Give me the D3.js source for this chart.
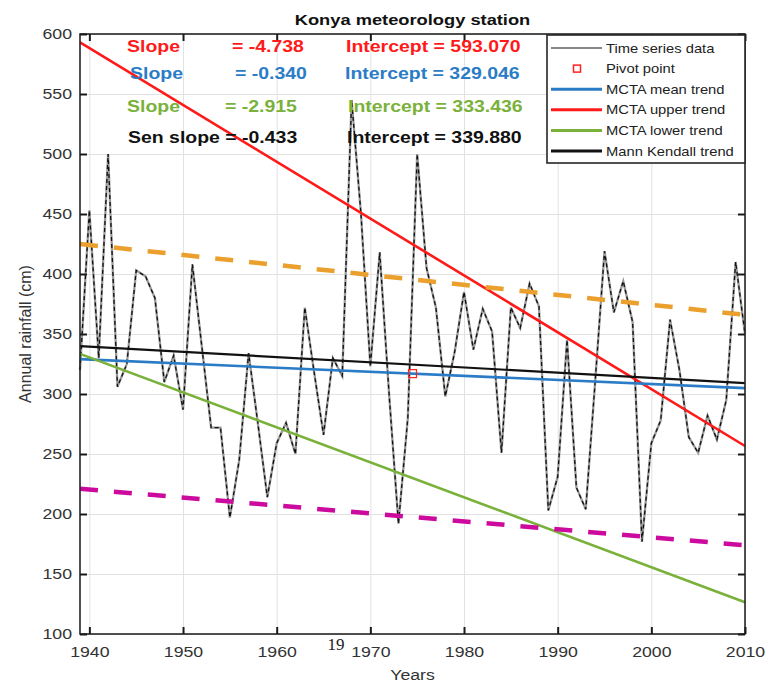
<!DOCTYPE html>
<html>
<head>
<meta charset="utf-8">
<script src="https://cdn.jsdelivr.net/npm/d3@7"></script>
<style>
    body { margin: 0; background: #fff; }
    svg { font-family: 'Liberation Sans', Arial, Helvetica, sans-serif; }
    .grid line { stroke: #e2e2e2; stroke-width: 1; }
    .grid path { display: none; }
    .tk path { display: none; }
    .tk line { stroke: #1a1a1a; stroke-width: 2; }
    .tk text { font-size: 15px; fill: #333; }
</style>
</head>
<body>
<svg id="chart" width="769" height="687"></svg>
<script>
// Jahresniederschlag Konya 1939 - 2010
var years = d3.range(1939, 2011);
var rainfall = [
    320,                                              // 1939
    453, 330, 500, 306, 325, 403, 398, 380, 310, 332, // 1940-49
    287, 408, 340, 272, 272, 197, 245, 334, 275, 214, // 1950-59
    259, 276, 250, 372, 318, 266, 330, 315, 545, 450, // 1960-69
    323, 418, 300, 192, 280, 500, 405, 372, 298, 335, // 1970-79
    385, 337, 371, 352, 251, 372, 355, 392, 373, 203, // 1980-89
    231, 345, 222, 204, 310, 419, 368, 394, 360, 177, // 1990-99
    259, 278, 362, 320, 264, 251, 282, 262, 295, 410, // 2000-09
    350                                               // 2010
];

// Trends (Reihenfolge: upper, mean, lower, Mann Kendall)
var trendKeys = ["upper", "mean", "lower", "mk"];
var trendSlope = [-4.738, -0.340, -2.915, -0.433];
var trendIntercept = [593.070, 329.046, 333.436, 339.880];

// gestrichelte Grenzen
var boundYears = [1939, 2010];
var upperBound = [425, 366];
var lowerBound = [221, 174];

var pivotYear = 1974.5;

var xTicks = [1940, 1950, 1960, 1970, 1980, 1990, 2000, 2010];
var yTicks = [100, 150, 200, 250, 300, 350, 400, 450, 500, 550, 600];

var legendLabels = ["Time series data", "Pivot point", "MCTA mean trend",
    "MCTA upper trend", "MCTA lower trend", "Mann Kendall trend"];

var colors = { upper: "#ff1a1a", mean: "#2a7cc6", lower: "#79b13a", mk: "#111111" };
var SX = 1.18; // Bild ist horizontal gestreckt

var margin = { top: 34, right: 24, bottom: 53, left: 80 },
    width = 769 - margin.left - margin.right,
    height = 687 - margin.top - margin.bottom;

var svg = d3.select("#chart");
var g = svg.append("g")
    .attr("transform", "translate(" + margin.left + "," + margin.top + ")");

var x = d3.scaleLinear().domain([1939, 2010]).range([0, width]);
var y = d3.scaleLinear().domain([100, 600]).range([height, 0]);

function stretch(sel) {
    sel.each(function () {
        var t = d3.select(this);
        var ox = +t.attr("x") || 0;
        t.attr("x", ox / SX).attr("transform", "scale(" + SX + ",1)");
    });
}

function label(parent, px, py, str) {
    return parent.append("text")
        .attr("transform", "translate(" + px + "," + py + ") scale(" + SX + ",1)")
        .text(str);
}

// Gitter
g.append("g").attr("class", "grid")
    .call(d3.axisLeft(y).tickValues(yTicks).tickSize(-width).tickFormat(""));
g.append("g").attr("class", "grid")
    .attr("transform", "translate(0," + height + ")")
    .call(d3.axisBottom(x).tickValues(xTicks).tickSize(-height).tickFormat(""));

// Zeitreihe
var line = d3.line()
    .x(function (d, i) { return x(years[i]); })
    .y(function (d) { return y(d); });

g.append("path").datum(rainfall)
    .attr("d", line)
    .attr("fill", "none")
    .attr("stroke", "#9a9a9a")
    .attr("stroke-width", 2.3);
g.append("path").datum(rainfall)
    .attr("d", line)
    .attr("fill", "none")
    .attr("stroke", "#111")
    .attr("stroke-width", 1.3)
    .attr("stroke-dasharray", "4,3");

// Trendlinien
trendKeys.forEach(function (k, i) {
    var ends = boundYears.map(function (yr) {
        return [yr, trendIntercept[i] + trendSlope[i] * (yr - 1939)];
    });
    g.append("line")
        .attr("x1", x(ends[0][0])).attr("y1", y(ends[0][1]))
        .attr("x2", x(ends[1][0])).attr("y2", y(ends[1][1]))
        .attr("stroke", colors[k])
        .attr("stroke-width", k === "mk" ? 2.2 : 2.6);
});

// gestrichelte Linien
[[upperBound, "#eb9f2c"], [lowerBound, "#cc0a9e"]].forEach(function (b) {
    g.append("line")
        .attr("x1", x(boundYears[0])).attr("y1", y(b[0][0]))
        .attr("x2", x(boundYears[1])).attr("y2", y(b[0][1]))
        .attr("stroke", b[1])
        .attr("stroke-width", 4.5)
        .attr("stroke-dasharray", "18,16");
});

// Pivot
var pivotVal = trendIntercept[1] + trendSlope[1] * (pivotYear - 1939);
g.append("rect")
    .attr("x", x(pivotYear) - 4).attr("y", y(pivotVal) - 4)
    .attr("width", 8).attr("height", 8)
    .attr("fill", "none").attr("stroke", "#ff2020").attr("stroke-width", 1.2);

// Rahmen und Ticks
g.append("rect")
    .attr("width", width).attr("height", height)
    .attr("fill", "none").attr("stroke", "#262626").attr("stroke-width", 1.6);

var yAx = g.append("g").attr("class", "tk")
    .call(d3.axisLeft(y).tickValues(yTicks).tickSize(-7).tickPadding(8));
yAx.selectAll("text").call(stretch);
g.append("g").attr("class", "tk")
    .attr("transform", "translate(" + width + ",0)")
    .call(d3.axisRight(y).tickValues(yTicks).tickSize(-7).tickFormat(""));
var xAx = g.append("g").attr("class", "tk")
    .attr("transform", "translate(0," + height + ")")
    .call(d3.axisBottom(x).tickValues(xTicks).tickSize(-7).tickPadding(12).tickFormat(d3.format("d")));
xAx.selectAll("text").call(stretch);
g.append("g").attr("class", "tk")
    .call(d3.axisTop(x).tickValues(xTicks).tickSize(-7).tickFormat(""));

// Legende
var leg = g.append("g").attr("transform", "translate(" + (width - 198) + ",1)");
leg.append("rect")
    .attr("width", 198).attr("height", 128)
    .attr("fill", "#fff").attr("stroke", "#262626").attr("stroke-width", 1.6);
var legStroke = [null, null, colors.mean, colors.upper, colors.lower, colors.mk];
legendLabels.forEach(function (lab, i) {
    var ry = 13 + i * 20.6;
    if (i === 0) {
        leg.append("line").attr("x1", 4).attr("x2", 55).attr("y1", ry).attr("y2", ry)
            .attr("stroke", "#111").attr("stroke-width", 1);
    } else if (i === 1) {
        leg.append("rect").attr("x", 26.5).attr("y", ry - 3.5).attr("width", 7).attr("height", 7)
            .attr("fill", "none").attr("stroke", "#ff2020").attr("stroke-width", 1.5);
    } else {
        leg.append("line").attr("x1", 4).attr("x2", 55).attr("y1", ry).attr("y2", ry)
            .attr("stroke", legStroke[i]).attr("stroke-width", 3);
    }
    label(leg, 59, ry + 4.5, lab).attr("font-size", 12.5).attr("fill", "#222");
});

// Beschriftung der Trends (normales Minuszeichen wie im Original)
var f3 = d3.formatLocale({ decimal: ".", thousands: ",", grouping: [3], currency: ["", ""], minus: "-" }).format(".3f");
var rowY = [52, 79, 112, 143];
var slopeX = [127, 130, 127];
var eqX = [232, 235, 225];
var intX = [346, 345, 348, 347];
var ann = svg.append("g").attr("font-weight", "bold").attr("font-size", 16.5);
trendKeys.forEach(function (k, i) {
    if (k === "mk") {
        label(ann, 128, rowY[i], "Sen slope = " + f3(trendSlope[i])).attr("fill", colors[k]);
    } else {
        label(ann, slopeX[i], rowY[i], "Slope").attr("fill", colors[k]);
        label(ann, eqX[i], rowY[i], "= " + f3(trendSlope[i])).attr("fill", colors[k]);
    }
    label(ann, intX[i], rowY[i], "Intercept = " + f3(trendIntercept[i])).attr("fill", colors[k]);
});

// Titel und Achsentitel
label(svg, margin.left + width / 2, 25, "Konya meteorology station")
    .attr("text-anchor", "middle").attr("font-weight", "bold").attr("font-size", 15.5).attr("fill", "#111");
label(svg, margin.left + width / 2, 680, "Years")
    .attr("text-anchor", "middle").attr("font-size", 15).attr("fill", "#333");
svg.append("text")
    .attr("transform", "translate(31," + (margin.top + height / 2) + ") rotate(-90)")
    .attr("text-anchor", "middle").attr("font-size", 16).attr("fill", "#333")
    .text("Annual rainfall (cm)");
svg.append("text")
    .attr("x", 336).attr("y", 650)
    .attr("text-anchor", "middle")
    .attr("font-family", "'Liberation Serif', 'Times New Roman', serif")
    .attr("font-size", 17).attr("fill", "#222")
    .text("19");
</script>
</body>
</html>
